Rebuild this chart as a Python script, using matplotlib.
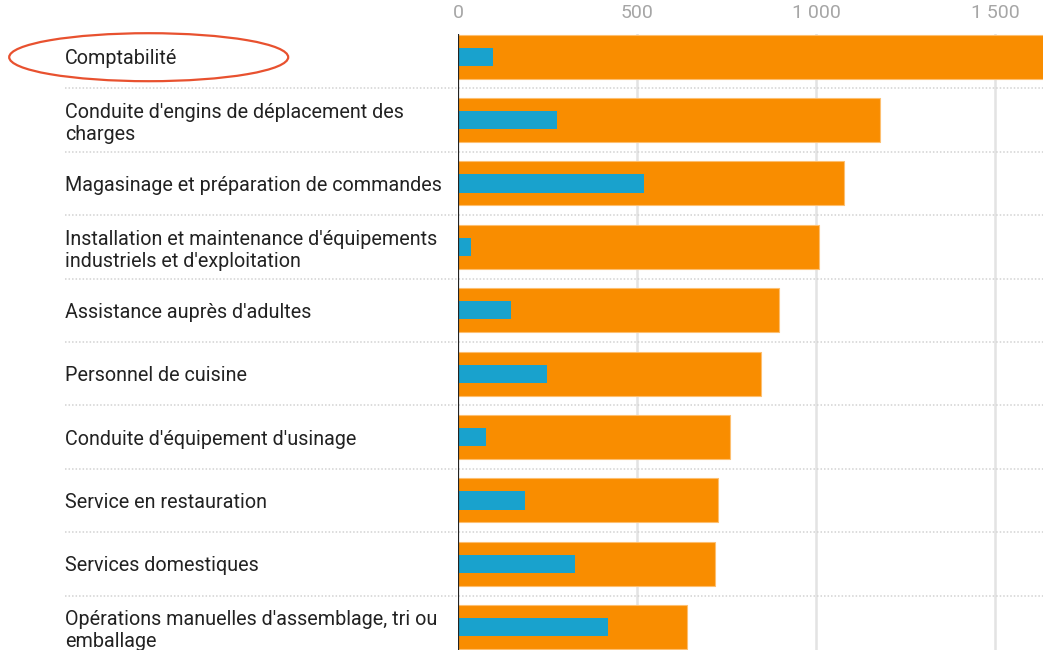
import matplotlib
matplotlib.use("Agg")
import matplotlib.pyplot as plt
from matplotlib.patches import Ellipse
from matplotlib.ticker import FuncFormatter
import matplotlib.transforms as mtransforms

plt.rcParams['font.family'] = ['Roboto', 'DejaVu Sans']

# Métiers et effectifs
metiers = [
    "Comptabilité",
    "Conduite d'engins de déplacement des\ncharges",
    "Magasinage et préparation de commandes",
    "Installation et maintenance d'équipements\nindustriels et d'exploitation",
    "Assistance auprès d'adultes",
    "Personnel de cuisine",
    "Conduite d'équipement d'usinage",
    "Service en restauration",
    "Services domestiques",
    "Opérations manuelles d'assemblage, tri ou\nemballage",
]
total = [1700, 1178, 1077, 1008, 897, 846, 759, 727, 718, 639]
partiel = [97, 276, 519, 36, 147, 248, 77, 188, 327, 418]
xticks = [0, 500, 1000, 1500]

ORANGE = "#F98D00"
BLEU = "#19A2CD"

W, H, DPI = 1043, 650, 100
fig = plt.figure(figsize=(W / DPI, H / DPI), dpi=DPI)
ax_top = 33.6
ax = fig.add_axes([458 / W, 0, 1 - 458 / W, 1 - ax_top / H])

pos = list(range(len(metiers)))
ax.barh(pos, total, height=0.694, color=ORANGE, edgecolor="#FDBF70", linewidth=0.8, zorder=2)
ax.barh(pos, partiel, height=0.289, color=BLEU, zorder=3)

ax.set_xlim(0, 1633)
ax.set_ylim(9.358, -0.364)

# grille verticale
for t in xticks[1:]:
    ax.axvline(t, color="#e3e3e3", lw=1.8, zorder=1)
ax.axvline(0, color="#222222", lw=1.6, zorder=4)

# séparateurs pointillés entre lignes
trans = mtransforms.blended_transform_factory(fig.transFigure, ax.transData)
for i in range(len(metiers) - 1):
    ax.plot([65 / W, 1], [i + 0.5, i + 0.5], transform=trans, color="#d2d2d2",
            lw=1.1, ls=(0, (1, 1.3)), clip_on=False, zorder=1)

ax.xaxis.tick_top()
ax.set_xticks(xticks)
ax.xaxis.set_major_formatter(FuncFormatter(lambda v, p: f"{int(v):,}".replace(",", " ")))
ax.tick_params(axis="x", length=0, pad=8, labelsize=14, labelcolor="#a6a6a6")

ax.set_yticks(pos)
ax.set_yticklabels(metiers, fontsize=14.2, color="#222222", ha="left", linespacing=1.2)
ax.tick_params(axis="y", length=0, pad=(458 - 65) * 72 / DPI)

for s in ax.spines.values():
    s.set_visible(False)

# ellipse de mise en évidence
ell = Ellipse((148.7 / W, 1 - 57.2 / H), 279 / W, 48 / H, transform=fig.transFigure,
              fill=False, edgecolor="#E8512F", lw=1.6)
fig.patches.append(ell)

fig.savefig("out.png", dpi=DPI)
